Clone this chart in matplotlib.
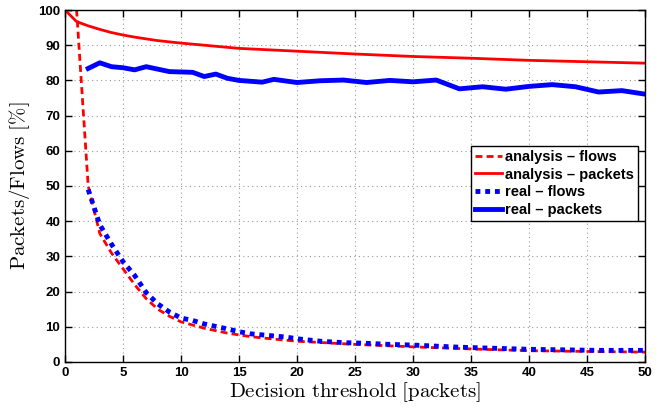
import numpy as np
import matplotlib
matplotlib.use('Agg')
import matplotlib.pyplot as plt

plt.rcParams['mathtext.fontset'] = 'cm'
plt.rcParams['font.family'] = ['Liberation Sans', 'DejaVu Sans']

# analysis - flows
x_af = [0, 1, 2, 3, 4, 5, 6, 7, 8, 9, 10, 12, 14, 16, 18, 20, 25, 30, 35, 40, 45, 50]
y_af = [100, 100, 50, 36.5, 31, 26.5, 22, 18, 15, 13, 11.4, 9.6, 8.2, 7.2, 6.5, 5.9,
        5.0, 4.3, 3.7, 3.2, 3.0, 2.8]

# analysis - packets
x_ap = [0, 1, 2, 3, 4, 5, 6, 8, 10, 12, 15, 20, 25, 30, 35, 40, 45, 50]
y_ap = [100, 96.7, 95.5, 94.5, 93.6, 92.9, 92.3, 91.3, 90.6, 90.0, 89.1, 88.3,
        87.5, 86.8, 86.3, 85.7, 85.3, 84.9]

# real - flows
x_rf = [2, 3, 4, 5, 6, 7, 8, 9, 10, 11, 12, 13, 14, 15, 16, 17, 18, 19, 20,
        22, 24, 26, 28, 30, 32, 34, 36, 38, 40, 42, 44, 46, 48, 50]
y_rf = [49, 39, 33.5, 28.5, 24.6, 19.7, 16.5, 14.2, 12.5, 11.8, 10.8, 10.1, 9.4,
        8.6, 8.0, 7.7, 7.4, 7.1, 6.6, 5.9, 5.5, 5.3, 5.0, 4.8, 4.5, 4.2, 4.0,
        3.8, 3.6, 3.5, 3.4, 3.3, 3.3, 3.3]

# real - packets
x_rp = [2, 3, 4, 5, 6, 7, 8, 9, 10, 11, 12, 13, 14, 15, 17, 18, 20, 22, 24,
        26, 28, 30, 32, 34, 36, 38, 40, 42, 44, 46, 48, 50]
y_rp = [83.4, 85.0, 83.9, 83.6, 83.0, 83.9, 83.2, 82.5, 82.4, 82.3, 81.1, 81.8,
        80.6, 80.0, 79.5, 80.3, 79.4, 79.9, 80.1, 79.4, 80.0, 79.6, 80.1, 77.6,
        78.2, 77.5, 78.3, 78.8, 78.2, 76.7, 77.1, 76.1]

fig = plt.figure(figsize=(6.68, 4.07), dpi=100)
ax = fig.add_axes([0.0973, 0.1106, 0.8683, 0.8648])

ax.plot(x_af, y_af, color='red', linestyle='--', linewidth=2, dashes=(2.5, 1.5),
        label='analysis – flows')
ax.plot(x_ap, y_ap, color='red', linestyle='-', linewidth=2, label='analysis – packets')
ax.plot(x_rf, y_rf, color='blue', linestyle=':', linewidth=3.5, dashes=(1, 1),
        label='real – flows')
ax.plot(x_rp, y_rp, color='blue', linestyle='-', linewidth=3.5, label='real – packets')

ax.set_xlim(0, 50)
ax.set_ylim(0, 100)
ax.set_xticks(np.arange(0, 51, 5))
ax.set_yticks(np.arange(0, 101, 10))
ax.tick_params(direction='in', top=True, right=True, length=5, width=1,
               labelsize=9.5)
for lab in ax.get_xticklabels() + ax.get_yticklabels():
    lab.set_fontweight('bold')
ax.grid(True, linestyle=(0, (1, 3)), color='#999999', linewidth=0.8)
for s in ax.spines.values():
    s.set_linewidth(1)

ax.set_xlabel(r'$\mathrm{Decision\ threshold\ [packets]}$', fontsize=15, labelpad=1)
ax.set_ylabel(r'$\mathrm{Packets/Flows\ [\%]}$', fontsize=15, labelpad=4)

leg = ax.legend(loc='upper left', bbox_to_anchor=(0.70, 0.615), borderaxespad=0,
                fancybox=False, edgecolor='black', framealpha=1,
                prop={'weight': 'bold', 'size': 10.5}, handlelength=1.8,
                handletextpad=0.2, labelspacing=0.25, borderpad=0.3)
leg.get_frame().set_linewidth(1)

fig.savefig('out.png', dpi=100)
